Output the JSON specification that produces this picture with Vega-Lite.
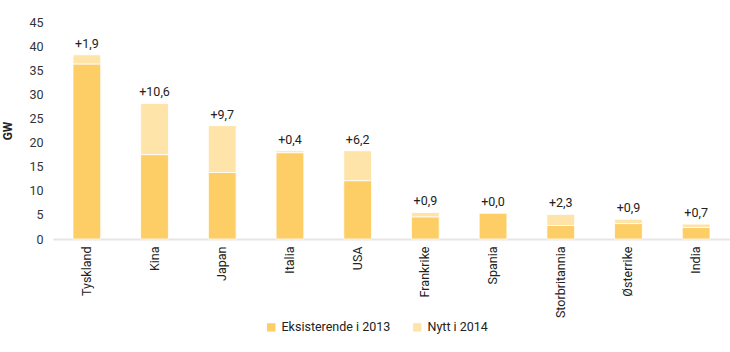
{
  "$schema": "https://vega.github.io/schema/vega-lite/v6.json",
  "width": 677,
  "height": 217,
  "autosize": {"type": "none"},
  "padding": {"left": 53, "top": 22, "right": 0, "bottom": 113},
  "config": {
    "view": {"stroke": null},
    "font": "Roboto",
    "locale": {"number": {"decimal": ",", "thousands": " ", "grouping": [3], "currency": ["", " kr"]}}
  },
  "data": {
    "values": [
      {"land": "Tyskland", "serie": "Eksisterende i 2013", "gw": 36.3},
      {"land": "Tyskland", "serie": "Nytt i 2014", "gw": 1.9, "tillegg": 1.9},
      {"land": "Kina", "serie": "Eksisterende i 2013", "gw": 17.5},
      {"land": "Kina", "serie": "Nytt i 2014", "gw": 10.6, "tillegg": 10.6},
      {"land": "Japan", "serie": "Eksisterende i 2013", "gw": 13.8},
      {"land": "Japan", "serie": "Nytt i 2014", "gw": 9.7, "tillegg": 9.7},
      {"land": "Italia", "serie": "Eksisterende i 2013", "gw": 17.9},
      {"land": "Italia", "serie": "Nytt i 2014", "gw": 0.4, "tillegg": 0.4},
      {"land": "USA", "serie": "Eksisterende i 2013", "gw": 12.1},
      {"land": "USA", "serie": "Nytt i 2014", "gw": 6.2, "tillegg": 6.2},
      {"land": "Frankrike", "serie": "Eksisterende i 2013", "gw": 4.6},
      {"land": "Frankrike", "serie": "Nytt i 2014", "gw": 0.9, "tillegg": 0.9},
      {"land": "Spania", "serie": "Eksisterende i 2013", "gw": 5.4},
      {"land": "Spania", "serie": "Nytt i 2014", "gw": 0.0, "tillegg": 0.0},
      {"land": "Storbritannia", "serie": "Eksisterende i 2013", "gw": 2.8},
      {"land": "Storbritannia", "serie": "Nytt i 2014", "gw": 2.3, "tillegg": 2.3},
      {"land": "Østerrike", "serie": "Eksisterende i 2013", "gw": 3.2},
      {"land": "Østerrike", "serie": "Nytt i 2014", "gw": 0.9, "tillegg": 0.9},
      {"land": "India", "serie": "Eksisterende i 2013", "gw": 2.4},
      {"land": "India", "serie": "Nytt i 2014", "gw": 0.7, "tillegg": 0.7}
    ]
  },
  "encoding": {
    "x": {
      "field": "land", "type": "nominal", "sort": null,
      "scale": {"paddingInner": 0.59, "paddingOuter": 0.295},
      "axis": {
        "title": null, "labelAngle": -90, "labelFontSize": 12.5, "labelColor": "#222222",
        "ticks": false, "labelPadding": 7, "domainColor": "#e6e6e6", "domainWidth": 2
      }
    },
    "y": {
      "aggregate": "sum", "field": "gw", "type": "quantitative",
      "scale": {"domain": [0, 45]},
      "axis": {
        "title": "GW", "titleFontSize": 12, "titleFontWeight": "bold", "titleColor": "#222222",
        "titlePadding": 14, "values": [0, 5, 10, 15, 20, 25, 30, 35, 40, 45], "tickCount": 10,
        "labelOverlap": false, "labelFlush": false,
        "grid": false, "domain": false, "ticks": false, "labelPadding": 10,
        "labelFontSize": 12.5, "labelColor": "#333333"
      }
    }
  },
  "layer": [
    {
      "mark": {"type": "bar", "stroke": "white", "strokeWidth": 0.8},
      "encoding": {
        "color": {
          "field": "serie", "type": "nominal",
          "scale": {"domain": ["Eksisterende i 2013", "Nytt i 2014"], "range": ["#FECE66", "#FEE4A9"]},
          "legend": {
            "title": null, "orient": "none", "direction": "horizontal",
            "legendX": 212, "legendY": 299, "symbolType": "square", "symbolSize": 70,
            "symbolStrokeWidth": 0, "labelFontSize": 12.5, "labelColor": "#222222", "columnPadding": 20
          }
        },
        "order": {"field": "serie", "sort": "ascending"}
      }
    },
    {
      "mark": {"type": "text", "baseline": "bottom", "dy": -4, "fontSize": 12.5, "color": "#222222"},
      "encoding": {
        "text": {"aggregate": "max", "field": "tillegg", "type": "quantitative", "format": "+.1f"}
      }
    }
  ]
}
